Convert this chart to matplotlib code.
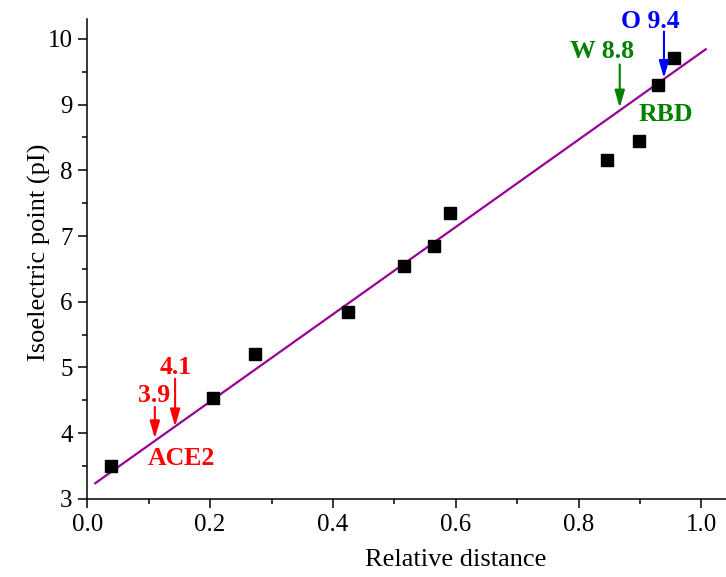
import matplotlib.pyplot as plt
from matplotlib.ticker import MultipleLocator

# measured points
rel_dist = [0.039, 0.205, 0.273, 0.425, 0.515, 0.565, 0.591, 0.847, 0.898, 0.929, 0.955]
pI = [3.50, 4.54, 5.20, 5.85, 6.55, 6.85, 7.35, 8.15, 8.45, 9.30, 9.70]

# linear fit line, endpoints
fit_x = [0.013, 1.007]
fit_y = [3.24, 9.84]

# arrows: x position, start (top) and tip on the fit line
arrow_x = [0.110, 0.143, 0.867, 0.939]
arrow_top = [4.40, 4.83, 9.61, 10.11]
arrow_tip = [3.92, 4.10, 8.95, 9.40]
arrow_colors = ['#ff0000', '#ff0000', '#008000', '#0000ff']

# labels
label_text = ['3.9', '4.1', 'ACE2', 'W 8.8', 'RBD', 'O 9.4']
label_x = [0.109, 0.144, 0.154, 0.839, 0.942, 0.917]
label_y = [4.58, 5.00, 3.62, 9.81, 8.85, 10.27]
label_colors = ['#ff0000', '#ff0000', '#ff0000', '#008000', '#008000', '#0000ff']

plt.rcParams['font.family'] = ['Liberation Serif', 'DejaVu Serif']

fig = plt.figure(figsize=(7.26, 5.77), dpi=100)
ax = fig.add_axes([0.1202, 0.1352, 0.8798, 0.8318])

ax.plot(fit_x, fit_y, color='#960096', lw=1.6, zorder=2)
ax.plot(rel_dist, pI, 's', color='black', ms=8, zorder=3)

for x, y0, y1, c in zip(arrow_x, arrow_top, arrow_tip, arrow_colors):
    ax.annotate('', xy=(x, y1), xytext=(x, y0),
                arrowprops=dict(arrowstyle='-|>,head_length=0.52,head_width=0.15',
                                color=c, lw=1.5, mutation_scale=20,
                                shrinkA=0, shrinkB=0), zorder=4)

for t, x, y, c in zip(label_text, label_x, label_y, label_colors):
    ax.text(x, y, t, color=c, fontsize=18.5, fontweight='bold',
            ha='center', va='center', zorder=5)

ax.set_xlim(0, 1.04)
ax.set_ylim(3, 10.3)
ax.xaxis.set_major_locator(MultipleLocator(0.2))
ax.xaxis.set_minor_locator(MultipleLocator(0.1))
ax.yaxis.set_major_locator(MultipleLocator(1))
ax.yaxis.set_minor_locator(MultipleLocator(0.5))
ax.xaxis.set_major_formatter(plt.FormatStrFormatter('%.1f'))

ax.spines['top'].set_visible(False)
ax.spines['right'].set_visible(False)
for s in ['left', 'bottom']:
    ax.spines[s].set_linewidth(1.1)

ax.tick_params(which='major', direction='out', length=6.5, width=1.1,
               labelsize=18, pad=4)
ax.tick_params(which='minor', direction='out', length=3.6, width=1.1)

ax.set_xlabel('Relative distance', fontsize=19)
ax.set_ylabel('Isoelectric point (pI)', fontsize=19)
ax.xaxis.set_label_coords(0.577, -0.127)
ax.yaxis.set_label_coords(-0.0756, 0.515)
ax.xaxis.label.set_va('center')
ax.yaxis.label.set_va('center')

plt.savefig('out.png', dpi=100)
